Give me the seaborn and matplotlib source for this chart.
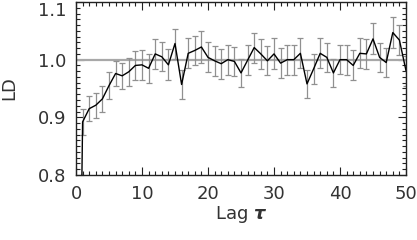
import numpy as np
import pandas as pd
import matplotlib
matplotlib.use("Agg")
import matplotlib.pyplot as plt
import seaborn as sns
from matplotlib.ticker import MultipleLocator

# ---- data ----
lags = list(range(0, 51))
ld_values = [0.0,
             0.892, 0.915, 0.921, 0.932, 0.955, 0.976, 0.972, 0.979, 0.990, 0.991,
             0.985, 1.010, 1.005, 0.991, 1.028, 0.957, 1.011, 1.016, 1.022, 1.004,
             0.998, 0.993, 1.000, 0.997, 0.977, 0.999, 1.021, 1.010, 0.998, 1.010,
             0.994, 1.000, 1.000, 1.011, 0.958, 0.984, 1.011, 1.004, 0.977, 1.000,
             1.000, 0.990, 1.011, 1.010, 1.036, 1.004, 0.995, 1.047, 1.034, 0.981]
ld_errors = [np.nan,
             0.022, 0.022, 0.022, 0.022, 0.023, 0.022, 0.023, 0.024, 0.025, 0.026,
             0.025, 0.026, 0.025, 0.027, 0.026, 0.025, 0.026, 0.025, 0.027, 0.026,
             0.026, 0.026, 0.026, 0.025, 0.025, 0.026, 0.026, 0.026, 0.025, 0.027,
             0.026, 0.026, 0.026, 0.026, 0.024, 0.026, 0.026, 0.025, 0.025, 0.025,
             0.026, 0.026, 0.026, 0.026, 0.027, 0.025, 0.025, 0.027, 0.026, 0.026]
x_ticks = [0, 10, 20, 30, 40, 50]
y_ticks = [0.8, 0.9, 1.0, 1.1]

df = pd.DataFrame({"lag": lags, "LD": ld_values, "err": ld_errors})

sns.set_style("ticks")
plt.rcParams['font.family'] = ['DejaVu Sans']

fig = plt.figure(figsize=(4.17, 2.40), dpi=100)
ax = fig.add_axes([76/417, 1 - 175/240, (406 - 76)/417, 173/240])

ax.axhline(1.0, color="#a8a8a8", lw=1.6, zorder=1)
e = df.dropna()
ax.errorbar(e["lag"], e["LD"], yerr=e["err"], fmt="none", ecolor="#909090",
            elinewidth=0.9, capsize=2.2, capthick=0.9, zorder=2)
sns.lineplot(data=df, x="lag", y="LD", ax=ax, color="black", lw=1.0,
             estimator=None, zorder=3)

ax.set_xlim(0, 50)
ax.set_ylim(0.8, 1.1)
ax.set_xticks(x_ticks)
ax.set_yticks(y_ticks)
ax.set_xticklabels([str(t) for t in x_ticks])
ax.set_yticklabels([f"{t:.1f}" for t in y_ticks])
ax.xaxis.set_minor_locator(MultipleLocator(1))
ax.yaxis.set_minor_locator(MultipleLocator(0.01))
ax.tick_params(which="both", direction="in", top=True, right=True,
               color="#222222", width=0.8)
ax.tick_params(which="major", length=6, labelsize=13, labelcolor="#333333", pad=7)
ax.tick_params(which="minor", length=3)
for s in ax.spines.values():
    s.set_color("#222222")
    s.set_linewidth(1.0)

# keep the topmost y label inside the figure, as in the reference
ax.get_yticklabels()[-1].set_verticalalignment("top")

ax.set_xlabel(r"Lag $\boldsymbol{\tau}$", fontsize=13, color="#333333", labelpad=1)
ax.set_ylabel("LD", fontsize=13, color="#333333", labelpad=14)

fig.savefig("out.png", dpi=100)
